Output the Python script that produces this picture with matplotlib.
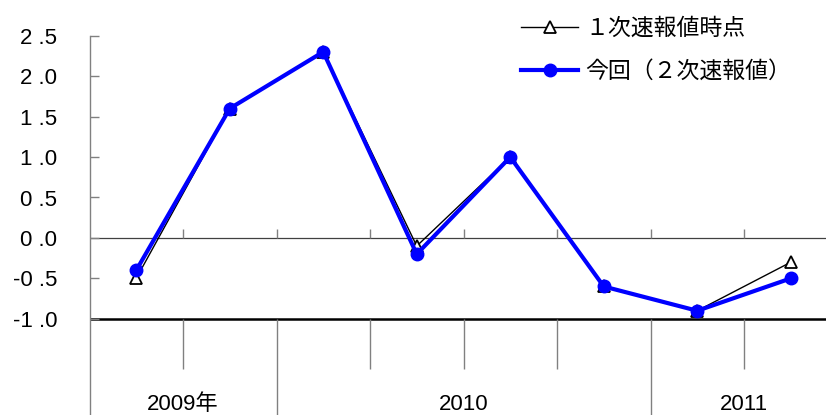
import matplotlib
matplotlib.use("Agg")
import matplotlib.pyplot as plt
import matplotlib.transforms as mtransforms
import numpy as np

plt.rcParams['font.family'] = ['Liberation Sans', 'Noto Sans CJK JP', 'DejaVu Sans']

# ---- data ----
quarters = ["7-9", "10-12", "1-3", "4-6", "7-9", "10-12", "1-3", "4-6"]
years = ["2009年", "2010", "2011"]
year_quarters = [2, 4, 2]
first_estimate = [-0.5, 1.6, 2.3, -0.1, 1.0, -0.6, -0.9, -0.3]
second_estimate = [-0.4, 1.6, 2.3, -0.2, 1.0, -0.6, -0.9, -0.5]
label_first = "１次速報値時点"
label_second = "今回（２次速報値）"
yticks = [-1.0, -0.5, 0.0, 0.5, 1.0, 1.5, 2.0, 2.5]

W, H = 826, 415
fig = plt.figure(figsize=(W / 100, H / 100), dpi=100)
left_px, top_px = 89.5, 35.7
ax = fig.add_axes([left_px / W, 0, (W - left_px) / W, (H - top_px) / H])

px_per_unit = 80.9
ymax = 2.5
ymin = ymax - (H - top_px) / px_per_unit
ax.set_ylim(ymin, ymax)
x = np.arange(len(quarters))
ax.set_xlim(-0.5, -0.5 + (W - left_px) / 93.5)

for s in ['top', 'right', 'bottom']:
    ax.spines[s].set_visible(False)
ax.spines['left'].set_color('#808080')
ax.spines['left'].set_linewidth(1.0)

ax.set_xticks([])
ax.set_yticks(yticks)
ax.set_yticklabels([f"{v:.1f}".replace('.', ' .') for v in yticks])
ax.tick_params(axis='y', direction='in', length=6.5, width=1.0, color='#808080',
               labelsize=16, pad=23.4)

# reference lines
ax.axhline(0, color='#404040', lw=0.9, zorder=1)
ax.axhline(-1, color='black', lw=1.8, zorder=1)

# category axis separators
bounds = np.arange(len(quarters) - 1) + 0.5
year_bounds = np.cumsum(year_quarters)[:-1] - 0.5
q_low = -1 - 50 / px_per_unit
for b in bounds:
    if b in year_bounds:
        ax.vlines(b, ymin, -1, color='#808080', lw=1.0, zorder=1)
    else:
        ax.vlines(b, q_low, -1, color='#808080', lw=1.0, zorder=1)
    ax.vlines(b, 0, 8.5 / px_per_unit, color='#808080', lw=1.0, zorder=1)

# year labels
trans = mtransforms.blended_transform_factory(ax.transData, ax.transAxes)
starts = np.concatenate([[0], np.cumsum(year_quarters)[:-1]])
for yl, st, n in zip(years, starts, year_quarters):
    cx = st - 0.5 + n / 2
    ax.text(cx, (H - 404) / (H - top_px), yl, transform=trans, ha='center', va='center',
            fontsize=16)

# series
l1, = ax.plot(x, first_estimate, color='black', lw=1.0, marker='^', markersize=9,
              markerfacecolor='white', markeredgecolor='black', markeredgewidth=1.3,
              zorder=3, label=label_first)
l2, = ax.plot(x, second_estimate, color='#0000FF', lw=3.0, marker='o', markersize=9,
              zorder=4, label=label_second)

leg = fig.legend(handles=[l1, l2], loc='upper left',
                 bbox_to_anchor=(521 / W, 1 - 17 / H), frameon=False,
                 borderpad=0, borderaxespad=0, handlelength=2.5, handletextpad=0.3,
                 labelspacing=0.88,
                 prop={'family': ['Noto Sans CJK JP', 'DejaVu Sans'], 'size': 16.5})

fig.savefig("out.png", dpi=100)
